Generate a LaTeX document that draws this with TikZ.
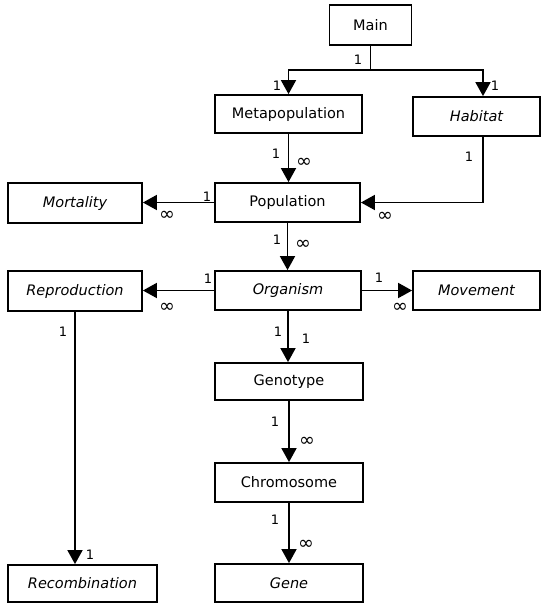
\documentclass[tikz,border=0pt]{standalone}
\usepackage{fontspec}
\setmainfont{DejaVu Sans}
\newfontfamily\thinfont{DejaVu Sans ExtraLight}
\usetikzlibrary{arrows.meta}
\begin{document}
\begin{tikzpicture}[x=1pt,y=-1pt,
  box/.style={draw,line width=1.8pt,inner sep=0pt,font=\fontsize{14.5}{17}\selectfont},
  arr/.style={line width=1.8pt,-{Triangle[length=14pt,width=15pt]}},
  lab/.style={inner sep=0pt,font=\fontsize{13}{15}\selectfont},
  inf/.style={inner sep=0pt,font=\fontsize{19}{22}\selectfont}]
\useasboundingbox (0,0) rectangle (541,603);
\node[box,minimum width=82pt,minimum height=40pt] (main) at (370.5,25) {Main};
\node[box,minimum width=147pt,minimum height=38pt] (meta) at (288.5,114) {Metapopulation};
\node[box,minimum width=127pt,minimum height=39pt] (hab) at (476.5,116.5) {\itshape Habitat};
\node[box,minimum width=145pt,minimum height=39pt] (pop) at (287.5,202.5) {Population};
\node[box,minimum width=134pt,minimum height=40pt] (mort) at (75,203) {\itshape Mortality};
\node[box,minimum width=134pt,minimum height=40pt] (repro) at (75,291) {\itshape Reproduction};
\node[box,minimum width=146pt,minimum height=39pt] (org) at (288,290.5) {\itshape Organism};
\node[box,minimum width=127pt,minimum height=39pt] (move) at (476.5,290.5) {\itshape Movement};
\node[box,minimum width=148pt,minimum height=37pt] (geno) at (289,381.5) {Genotype};
\node[box,minimum width=148pt,minimum height=39pt] (chromo) at (289,482.5) {Chromosome};
\node[box,minimum width=148pt,minimum height=38pt] (gene) at (289,583) {\itshape Gene};
\node[box,minimum width=149pt,minimum height=37pt] (recomb) at (82.5,583.5) {\itshape Recombination};
\coordinate (j) at (370.5,70);
\draw[line width=1.8pt] (main.south) -- (j);
\draw[arr] (j) -| (meta.north);
\draw[arr] (j) -| ([xshift=6.5pt]hab.north);
\draw[arr] (meta.south) -- (meta.south |- pop.north);
\draw[arr] ([xshift=6.5pt]hab.south) |- (pop.east);
\draw[arr] (pop.west) -- (pop.west -| mort.east);
\draw[arr] (pop.south) -- (pop.south |- org.north);
\draw[arr] (org.west) -- (org.west -| repro.east);
\draw[arr] (org.east) -- (org.east -| move.west);
\draw[arr] (org.south) -- (org.south |- geno.north);
\draw[arr] (geno.south) -- (geno.south |- chromo.north);
\draw[arr] (chromo.south) -- (chromo.south |- gene.north);
\draw[arr] (repro.south) -- (repro.south |- recomb.north);
\node[lab] (a1) at (358,60) {1};
\node[lab] (a2) at (277,86) {1};
\node[lab] (a3) at (495,86) {1};
\node[lab] (b1) at (276,154) {1};
\node[inf] (b2) at (304,163) {∞};
\node[lab] (c1) at (469,157) {1};
\node[inf] (c2) at (385,217) {∞};
\node[lab] (d1) at (207,197) {1};
\node[inf] (d2) at (167,216) {∞};
\node[lab] (e1) at (277,240) {1};
\node[inf] (e2) at (303,245) {∞};
\node[lab] (f1) at (208,279) {1};
\node[inf] (f2) at (167,308) {∞};
\node[lab] (g1) at (379,278) {1};
\node[inf] (g2) at (400,308) {∞};
\node[lab] (h1) at (278,332) {1};
\node[lab] (h2) at (306,339) {1};
\node[lab] (i1) at (275,422) {1};
\node[inf] (i2) at (307,442) {∞};
\node[lab] (k1) at (275,520) {1};
\node[inf] (k2) at (306,545) {∞};
\node[lab] (m1) at (63,332) {1};
\node[lab] (m2) at (90,555) {1};
\end{tikzpicture}
\end{document}
